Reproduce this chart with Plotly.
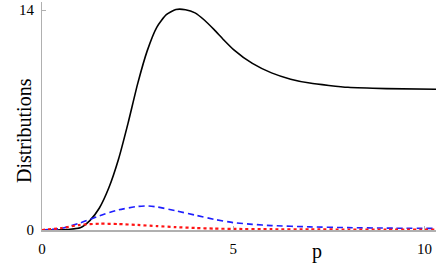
import plotly.graph_objects as go

# Data
p_black = [0, 0.5, 1.0, 1.25, 1.5, 1.75, 2.0, 2.25, 2.5, 2.75, 3.0, 3.25, 3.5, 3.75, 4.0, 4.25, 4.5, 4.75, 5.0, 5.5, 6.0, 6.5, 7.0, 7.5, 8.0, 9.0, 10.3]
v_black = [0, 0.01, 0.15, 0.6, 1.4, 2.7, 4.5, 6.8, 9.3, 11.4, 12.9, 13.7, 14.03, 14.02, 13.82, 13.35, 12.75, 12.1, 11.5, 10.6, 10.0, 9.6, 9.35, 9.2, 9.08, 9.0, 8.96]

p_blue = [0, 0.5, 1.0, 1.5, 2.0, 2.5, 2.75, 3.0, 3.5, 4.0, 4.5, 5.0, 5.5, 6.0, 7.0, 8.0, 9.0, 10.3]
v_blue = [0, 0.1, 0.45, 0.9, 1.28, 1.5, 1.53, 1.47, 1.22, 0.95, 0.68, 0.47, 0.36, 0.28, 0.2, 0.15, 0.12, 0.1]

p_red = [0, 0.5, 1.0, 1.5, 2.0, 2.5, 3.0, 3.5, 4.0, 4.5, 5.0, 6.0, 7.0, 8.0, 9.0, 10.3]
v_red = [0, 0.12, 0.33, 0.4, 0.38, 0.32, 0.25, 0.18, 0.13, 0.09, 0.07, 0.05, 0.04, 0.03, 0.03, 0.02]

x_ticks = [0, 5, 10]
y_ticks = [0, 14]

font = "Liberation Serif"

fig = go.Figure()
fig.add_trace(go.Scatter(x=p_black, y=v_black, mode="lines",
                         line=dict(color="black", width=1.6, shape="spline", smoothing=0.6)))
fig.add_trace(go.Scatter(x=p_blue, y=v_blue, mode="lines",
                         line=dict(color="rgb(30,30,255)", width=1.6, dash="6px,4px", shape="spline", smoothing=0.6)))
fig.add_trace(go.Scatter(x=p_red, y=v_red, mode="lines",
                         line=dict(color="rgb(255,20,20)", width=2.2, dash="3px,3px", shape="spline", smoothing=0.6)))

fig.update_layout(
    width=436, height=273,
    margin=dict(l=42, r=0, t=2, b=43, autoexpand=False),
    paper_bgcolor="white", plot_bgcolor="white",
    showlegend=False,
    font=dict(family=font, size=15, color="black"),
    xaxis=dict(range=[0, 10.3], tickvals=x_ticks, ticktext=[str(t) for t in x_ticks],
               automargin=False,
               showgrid=False, zeroline=False, showline=True, linecolor="#b0b0b0", linewidth=1.5,
               ticks="inside", ticklen=4, tickcolor="#b0b0b0", ticklabelstandoff=4,
               tickfont=dict(family=font, size=15)),
    yaxis=dict(range=[0, 14.51], tickvals=y_ticks, ticktext=[str(t) for t in y_ticks],
               automargin=False,
               showgrid=False, zeroline=False, showline=True, linecolor="#b0b0b0", linewidth=1,
               ticks="inside", ticklen=4, tickcolor="#b0b0b0", ticklabelstandoff=4,
               tickfont=dict(family=font, size=15)),
    annotations=[
        dict(text="p", x=7.2, y=0, xref="x", yref="y", yshift=-21, showarrow=False,
             font=dict(family=font, size=20), xanchor="center", yanchor="middle"),
        dict(text="Distributions", x=(24 - 42) / 394, y=(230 - 131) / 228,
             xref="paper", yref="paper", showarrow=False,
             textangle=-90, font=dict(family=font, size=20), xanchor="center", yanchor="middle"),
    ],
)
fig.write_html("out.html", config={"displayModeBar": False},
               post_script="document.body.style.margin='0px';document.body.style.overflow='hidden';")
